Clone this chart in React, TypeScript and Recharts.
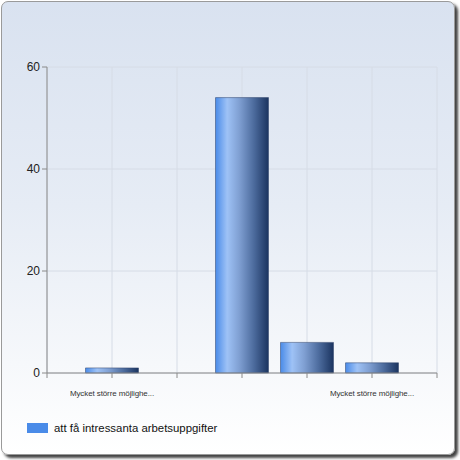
import { BarChart, Bar, XAxis, YAxis, CartesianGrid } from 'recharts'

const positions = [1, 2, 3, 4, 5]
const counts = [1, 0, 54, 6, 2]
const categoryLabels = ['Mycket större möjlighe...', '', '', '', 'Mycket större möjlighe...']
const xTicks = [0, 1, 2, 3, 4, 5, 6]
const yTicks = [0, 20, 40, 60]
const seriesName = 'att få intressanta arbetsuppgifter'

const data = positions.map((x, i) => ({ x, value: counts[i], label: categoryLabels[i] }))

const font = '"Liberation Sans", Arial, sans-serif'

export default function App() {
  return (
    <div style={{ position: 'absolute', left: 0, top: 0, width: 460, height: 460, fontFamily: font }}>
      <div
        style={{
          position: 'absolute',
          left: 1,
          top: 1,
          width: 452,
          height: 452,
          border: '1px solid #9a9a9a',
          borderRadius: 7,
          boxShadow: '3px 3px 3px rgba(0,0,0,0.75)',
          background: 'linear-gradient(to bottom, #d9e2f0 0%, #e6ecf5 45%, #f6f8fb 80%, #ffffff 100%)',
        }}
      />
      <div style={{ position: 'absolute', left: 0, top: 0 }}>
        <BarChart width={460} height={460} data={data} margin={{ top: 67, right: 23, left: 0, bottom: 57 }}>
          <defs>
            <linearGradient id="barFill" x1="0" y1="0" x2="1" y2="0">
              <stop offset="0%" stopColor="#4a8be8" />
              <stop offset="22%" stopColor="#9ec2f6" />
              <stop offset="45%" stopColor="#7f9fd2" />
              <stop offset="72%" stopColor="#4d6c9e" />
              <stop offset="100%" stopColor="#1b3460" />
            </linearGradient>
          </defs>
          <CartesianGrid stroke="#d6dce6" />
          <XAxis
            dataKey="x"
            type="number"
            domain={[0, 6]}
            ticks={xTicks}
            interval={0}
            height={30}
            stroke="#8a8a8a"
            tickSize={5}
            tickMargin={12}
            tick={{ fontSize: 8, fill: '#333', fontFamily: font, letterSpacing: -0.1 }}
            tickFormatter={(v: number) => {
              const i = positions.indexOf(v)
              return i >= 0 ? categoryLabels[i] : ''
            }}
          />
          <YAxis
            domain={[0, 60]}
            ticks={yTicks}
            width={47}
            stroke="#8a8a8a"
            tickSize={5}
            tickMargin={2}
            tick={{ fontSize: 12, fill: '#222', fontFamily: font }}
          />
          <Bar dataKey="value" barSize={53} fill="url(#barFill)" stroke="#2a3f66" strokeWidth={0.5} isAnimationActive={false} />
        </BarChart>
      </div>
      <div style={{ position: 'absolute', left: 27, top: 422, display: 'flex', alignItems: 'center', fontSize: 11.4, color: '#111' }}>
        <span style={{ display: 'inline-block', width: 21, height: 10, background: '#4a8be8', marginRight: 6 }} />
        <span>{seriesName}</span>
      </div>
    </div>
  )
}
